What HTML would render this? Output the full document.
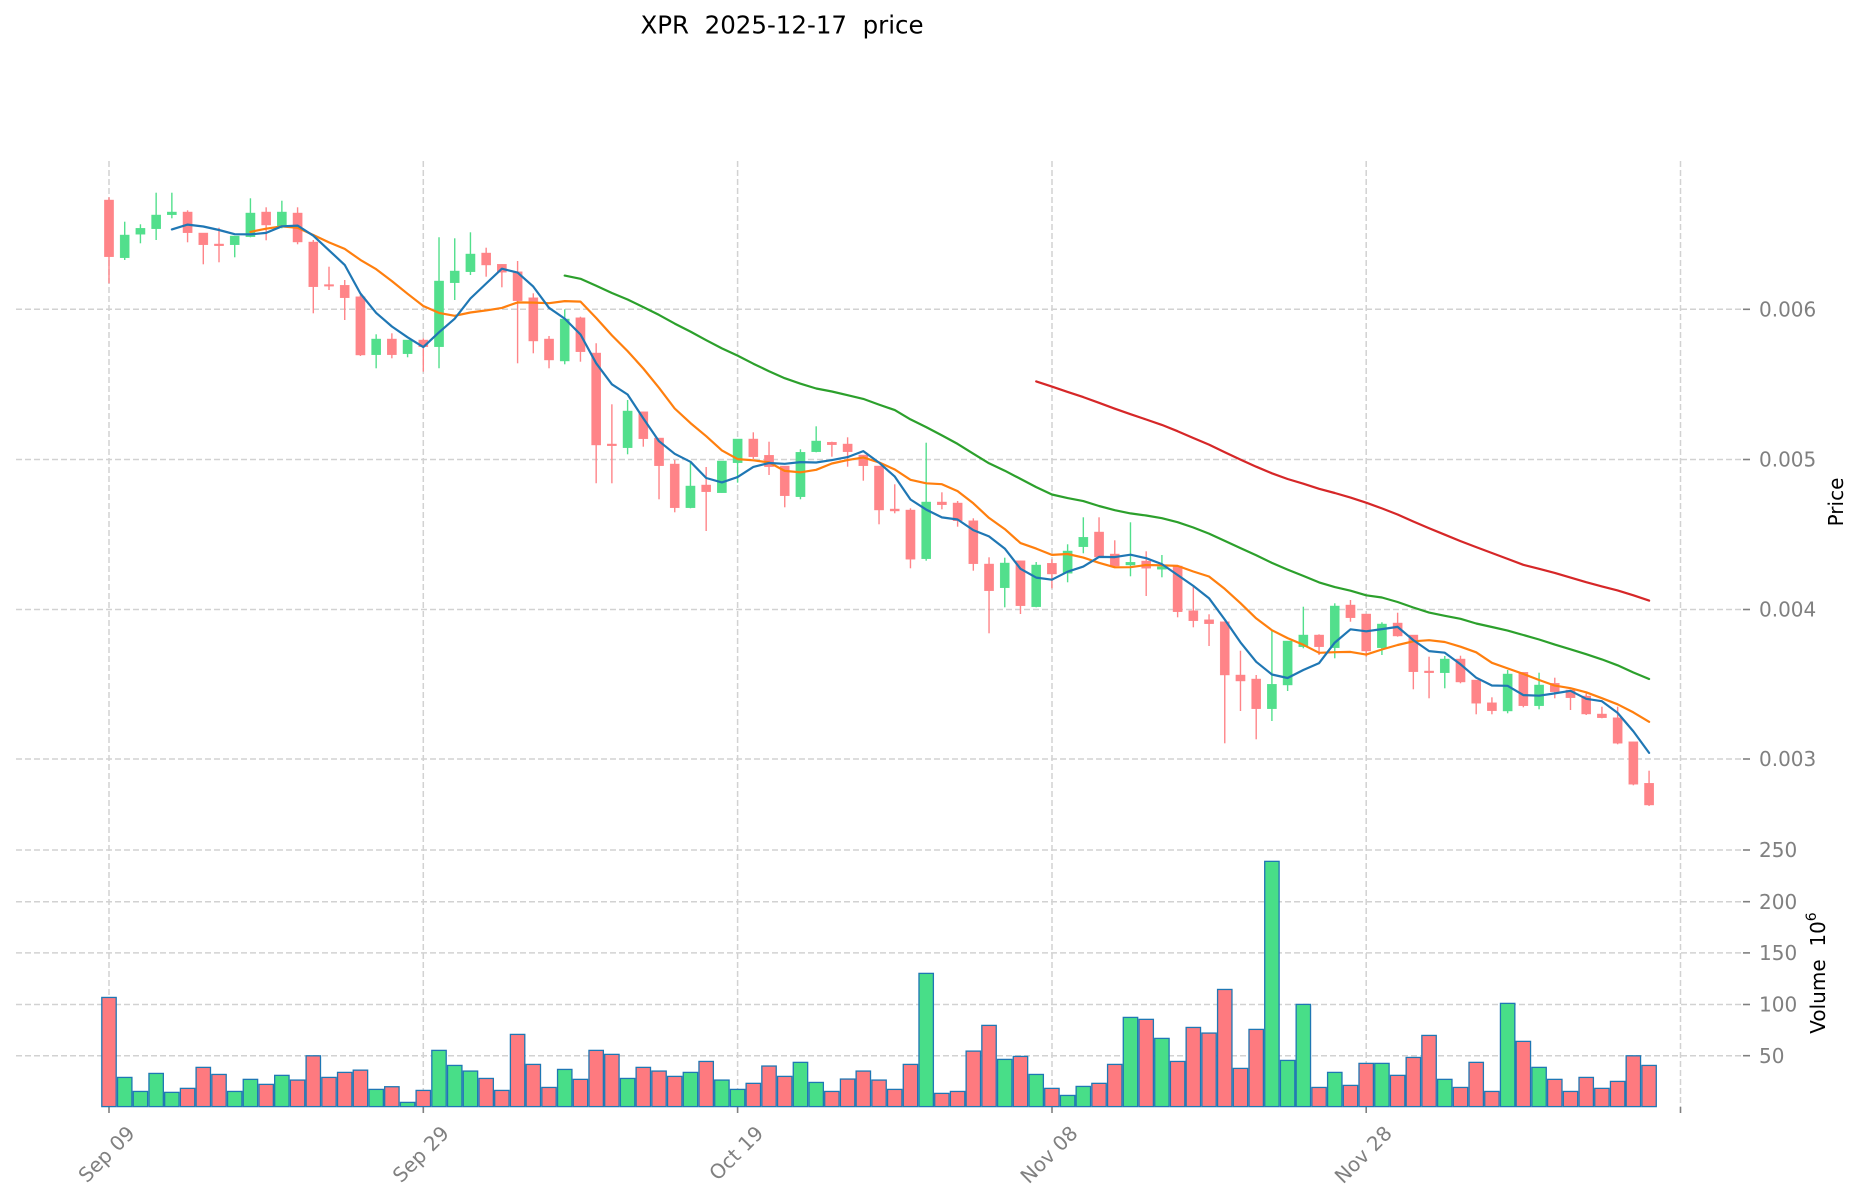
<!DOCTYPE html>
<html><head><meta charset="utf-8"><style>
html,body{margin:0;padding:0;background:#fff;}
svg{display:block;}
text{font-family:"DejaVu Sans","Liberation Sans",sans-serif;}
</style></head><body>
<svg id="c" width="1860" height="1202" viewBox="0 0 1860 1202" xmlns="http://www.w3.org/2000/svg">
<rect width="1860" height="1202" fill="#fff"/>
<g id="grid" stroke="#d2d2d2" stroke-width="1.5" stroke-dasharray="6 3" fill="none">
<line x1="16" y1="309.3" x2="1743" y2="309.3"/>
<line x1="16" y1="459.5" x2="1743" y2="459.5"/>
<line x1="16" y1="609.5" x2="1743" y2="609.5"/>
<line x1="16" y1="759" x2="1743" y2="759"/>
<line x1="16" y1="850" x2="1743" y2="850"/>
<line x1="16" y1="901.7" x2="1743" y2="901.7"/>
<line x1="16" y1="952.9" x2="1743" y2="952.9"/>
<line x1="16" y1="1004.5" x2="1743" y2="1004.5"/>
<line x1="16" y1="1055.7" x2="1743" y2="1055.7"/>
<line x1="109" y1="161" x2="109" y2="1107"/>
<line x1="423.3" y1="161" x2="423.3" y2="1107"/>
<line x1="737.6" y1="161" x2="737.6" y2="1107"/>
<line x1="1052" y1="161" x2="1052" y2="1107"/>
<line x1="1366.2" y1="161" x2="1366.2" y2="1107"/>
<line x1="1680.5" y1="161" x2="1680.5" y2="1107"/>
</g>
<g id="ticks" stroke="#808080" stroke-width="1.6">
<line x1="1743" y1="309.3" x2="1750" y2="309.3"/>
<line x1="1743" y1="459.5" x2="1750" y2="459.5"/>
<line x1="1743" y1="609.5" x2="1750" y2="609.5"/>
<line x1="1743" y1="759" x2="1750" y2="759"/>
<line x1="1743" y1="850" x2="1750" y2="850"/>
<line x1="1743" y1="901.7" x2="1750" y2="901.7"/>
<line x1="1743" y1="952.9" x2="1750" y2="952.9"/>
<line x1="1743" y1="1004.5" x2="1750" y2="1004.5"/>
<line x1="1743" y1="1055.7" x2="1750" y2="1055.7"/>
<line x1="109" y1="1107" x2="109" y2="1113"/>
<line x1="423.3" y1="1107" x2="423.3" y2="1113"/>
<line x1="737.6" y1="1107" x2="737.6" y2="1113"/>
<line x1="1052" y1="1107" x2="1052" y2="1113"/>
<line x1="1366.2" y1="1107" x2="1366.2" y2="1113"/>
<line x1="1680.5" y1="1107" x2="1680.5" y2="1113"/>
</g>
<g id="vol"></g>
<g id="wicks"></g>
<g id="bodies"></g>
<g id="mas" fill="none" stroke-width="2.2" stroke-linejoin="round" stroke-linecap="round"></g>
<g font-size="20" fill="#808080">
<text x="1759" y="316.5">0.006</text>
<text x="1759" y="466.7">0.005</text>
<text x="1759" y="616.7">0.004</text>
<text x="1759" y="766.2">0.003</text>
<text x="1759" y="857.2">250</text>
<text x="1759" y="908.9">200</text>
<text x="1759" y="960.1">150</text>
<text x="1759" y="1011.7">100</text>
<text x="1759" y="1062.9">50</text>
<text x="136" y="1134.5" text-anchor="end" transform="rotate(-45 136 1134.5)">Sep 09</text>
<text x="450.3" y="1134.5" text-anchor="end" transform="rotate(-45 450.3 1134.5)">Sep 29</text>
<text x="764.6" y="1134.5" text-anchor="end" transform="rotate(-45 764.6 1134.5)">Oct 19</text>
<text x="1079" y="1134.5" text-anchor="end" transform="rotate(-45 1079 1134.5)">Nov 08</text>
<text x="1393.2" y="1134.5" text-anchor="end" transform="rotate(-45 1393.2 1134.5)">Nov 28</text>
</g>
<text x="782" y="33.5" font-size="24.5" text-anchor="middle" fill="#000" style="white-space:pre">XPR  2025-12-17  price</text>
<text x="1843" y="502" font-size="20" text-anchor="middle" fill="#000" transform="rotate(-90 1843 502)">Price</text>
<text x="1825" y="973" font-size="20" text-anchor="middle" fill="#000" transform="rotate(-90 1825 973)" style="white-space:pre">Volume  10<tspan font-size="14" dy="-9">6</tspan></text>
</svg>
<script>
(function(){
var D=[
[200,197.3,283.3,256.7],[257.7,221.7,260,235],[234.3,224.3,243.3,228.3],[228.7,192.7,240,215],[214.7,192.7,218.3,212],
[212,210.3,242.3,232.7],[233,233,264.3,244.7],[244,227.7,262.3,245.7],[244.7,236,257.3,236],[236.7,198.3,237.3,213],
[212,207.3,240.3,225],[226.7,200.7,228.3,212],[213,207.3,244.3,242],[242,240,313.3,286.7],[284.7,266.7,290,286],
[285.3,280,320,297.7],[296.7,295,356,355],[354.7,334.3,368.3,339],[339,333.3,358.3,354.7],[353.7,340,357.3,340],
[340,338.3,371.7,346.7],[346.7,237.3,368.3,281],[282.7,238.3,300,271],[271.7,232.3,275,254],[253,247.7,276.7,265],
[264.3,264.3,287.3,272.3],[271.7,261,363.3,300.7],[297.7,293.3,353.3,341],[339,336,368.3,360],[361,309.3,364.3,319],
[317.7,316.7,361.7,351.7],[353,343.3,483.3,445],[444,404.3,483.3,445.7],[447.7,400,454.3,411],[411.7,411.7,446.7,438.7],
[438,438,499.3,465.7],[464,460,512.3,507.7],[507.7,461.7,508.3,486],[485,467,531,491.7],[492.7,461,492.7,461],
[462.7,439,482.7,439],[439,432.3,459,456.7],[455.3,441.7,475,466.7],[466,466,507.3,495.7],[496.7,449.3,499.3,452.3],
[451.7,426.3,452.3,441],[442.3,441.7,456.7,444.7],[444,437.3,466.7,451.7],[455,455,480.7,465.7],[466,466,524.3,510],
[509,484.3,513.3,511],[510,508.3,568.3,559.3],[558.7,442.7,560.7,502],[502,492.3,509.3,504.7],[503,501,526.7,520.7],
[520.7,518.3,570.7,563.7],[564,557.3,633.3,590.7],[587.7,557.7,607.3,563],[560.7,560.7,614,605.7],[606.7,562,607.3,565],
[563.3,559.3,588.3,574],[573.3,544.3,582.3,551],[546.7,517.3,553.3,537.3],[532,517.3,557,557],[554,540.3,567.7,566],
[565,522.3,576.3,562.3],[561,551.3,596,568.3],[569.3,555,577.3,566.7],[566,566,617.3,611.7],[610.7,586.7,627.3,620.7],
[619.7,614.3,646,623.7],[621.7,621.7,743.3,675],[675,650.7,711,681],[679,675,739.3,708.7],[708.7,631,721,684.3],
[685,641,691,641],[646.7,606.7,648.3,635],[635,634.3,655,646.7],[647.7,603.3,658.3,606],[605,600,621.7,617.7],
[614,614,656.7,651],[647.7,622.3,655,624],[623,612.7,636.7,636],[635,635,689.3,671.7],[671,656.7,698.3,672.7],
[672.7,656,688.3,659],[659,655.7,683.3,682],[680,680,714.3,703.3],[702.7,697.3,714.3,710.7],[711,670,713.3,674],
[672.3,672.3,707.3,705.7],[705.7,672.7,709.3,685],[683.3,677.7,698.3,691.7],[690,690,710,697.7],[696,693.3,715,714],
[714,706.7,718.3,717.7],[717.7,706.7,744.3,743.3],[741.7,741.7,785.3,784.3],[783.3,770.7,806,805]
];
var V=[106.6,28.5,14.8,32.4,13.9,17.8,38.3,31.4,14.8,26.6,21.7,30.5,25.9,49.6,28.5,33.4,35.6,16.8,19.4,4.1,
15.8,54.9,40.2,34.7,27.5,15.8,70.5,41.2,18.7,36.3,26.6,54.9,51,27.5,38.3,34.7,29.5,33.4,44.1,25.9,
16.8,22.7,39.6,29.5,43.2,23.6,14.8,26.9,34.7,25.9,16.8,41.2,130.1,12.9,14.8,54.2,79.3,46.1,49,31.4,
17.8,10.9,19.7,22.7,41.2,87.1,85.2,66.6,44.1,77.3,71.8,114.4,37.3,75.4,239.5,45.1,99.8,18.7,33.4,20.7,
42.2,42.2,30.5,48,69.5,26.6,18.7,43.2,14.8,100.8,63.7,38.3,26.6,14.8,28.5,17.8,24.6,49.6,40.2];
var NS="http://www.w3.org/2000/svg";
function el(n,a,p){var e=document.createElementNS(NS,n);for(var k in a)e.setAttribute(k,a[k]);p.appendChild(e);return e;}
function X(d){return 109+15.715*d;}
var gV=document.getElementById('vol'),gW=document.getElementById('wicks'),gB=document.getElementById('bodies'),gM=document.getElementById('mas');
var UPC="#52df8c",DNC="#ff8488",UPV="#48de88",DNV="#fe7a7f";
var Z=1106.6;
for(var i=0;i<D.length;i++){
  var o=D[i][0],h=D[i][1],l=D[i][2],c=D[i][3];
  var up=c<o;var x=X(i);
  var col=up?UPC:DNC;
  el('line',{x1:x,y1:h,x2:x,y2:l,stroke:col,'stroke-width':1.4},gW);
  var t=Math.min(o,c),b=Math.max(o,c);if(b-t<1.6){var m=(t+b)/2;t=m-0.8;b=m+0.8;}
  el('rect',{x:x-4.6,y:t,width:9.2,height:b-t,fill:col,stroke:col,'stroke-width':0.4},gB);
  var vy=Z-V[i]*1.024;
  el('rect',{x:x-7.2,y:vy,width:14.4,height:Z-vy,fill:up?UPV:DNV,stroke:'#1f77b4','stroke-width':1.3},gV);
}
function ma(n,col){
  var pts=[];
  for(var i=n-1;i<D.length;i++){var s=0;for(var j=i-n+1;j<=i;j++)s+=D[j][3];pts.push(X(i).toFixed(1)+','+(s/n).toFixed(1));}
  el('polyline',{points:pts.join(' '),stroke:col},gM);
}
ma(60,'#d62728');ma(30,'#2ca02c');ma(10,'#ff7f0e');ma(5,'#1f77b4');
})();
</script>
</body></html>
